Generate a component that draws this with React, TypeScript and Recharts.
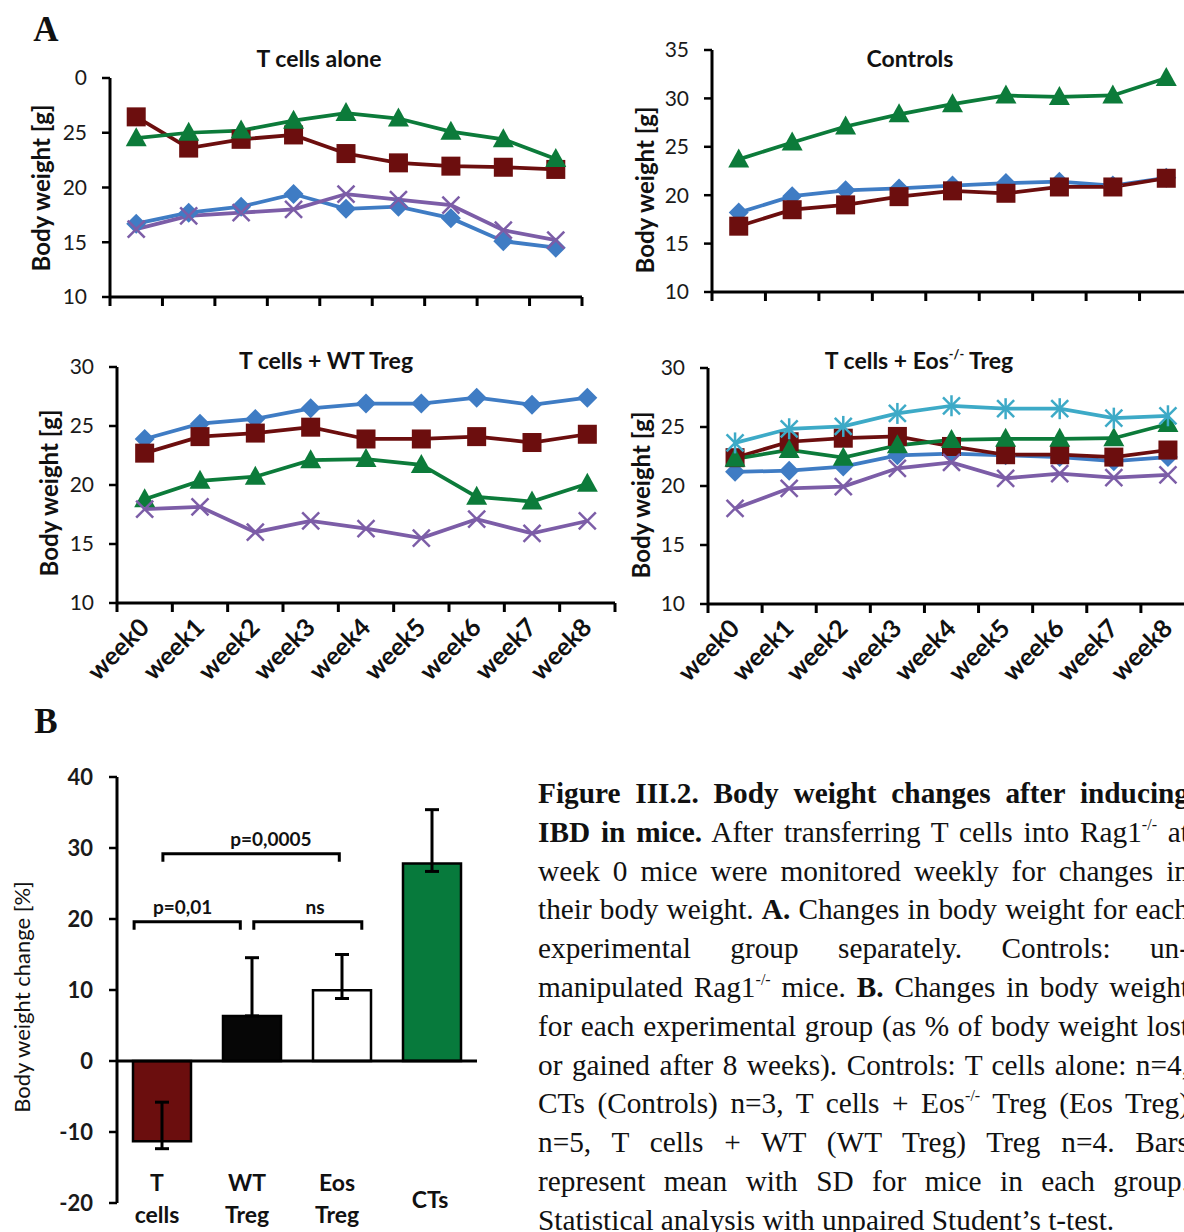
import React from "react";
import { LineChart, Line, XAxis, YAxis, BarChart, Bar, Cell, ErrorBar, ReferenceLine } from "recharts";

const FONT = "Lato, 'Open Sans', sans-serif";
const SERIF = "'Liberation Serif', 'Times New Roman', serif";

const weeks = ["week0", "week1", "week2", "week3", "week4", "week5", "week6", "week7", "week8"];

// T cells alone
const aloneBlue = [16.7, 17.7, 18.25, 19.4, 18.05, 18.25, 17.2, 15.1, 14.5];
const aloneRed = [26.45, 23.6, 24.4, 24.8, 23.1, 22.25, 21.95, 21.85, 21.65];
const aloneGreen = [24.5, 25.0, 25.2, 26.1, 26.8, 26.3, 25.1, 24.4, 22.6];
const alonePurple = [16.2, 17.4, 17.7, 18.0, 19.4, 18.9, 18.4, 16.1, 15.2];

// Controls
const ctrlBlue = [18.2, 19.9, 20.5, 20.7, 21.0, 21.25, 21.4, 21.0, 21.8];
const ctrlRed = [16.8, 18.5, 19.0, 19.85, 20.45, 20.2, 20.85, 20.85, 21.75];
const ctrlGreen = [23.7, 25.45, 27.1, 28.35, 29.4, 30.3, 30.15, 30.3, 32.1];

// T cells + WT Treg
const wtBlue = [23.9, 25.2, 25.6, 26.5, 26.9, 26.9, 27.4, 26.8, 27.4];
const wtRed = [22.7, 24.1, 24.4, 24.9, 23.9, 23.9, 24.1, 23.6, 24.3];
const wtGreen = [18.8, 20.35, 20.7, 22.1, 22.2, 21.7, 19.0, 18.6, 20.1];
const wtPurple = [17.95, 18.15, 16.0, 16.95, 16.3, 15.5, 17.1, 15.9, 16.95];

// T cells + Eos-/- Treg
const eosBlue = [21.2, 21.3, 21.65, 22.6, 22.75, 22.6, 22.45, 22.1, 22.45];
const eosRed = [22.4, 23.75, 24.05, 24.2, 23.35, 22.65, 22.65, 22.45, 23.05];
const eosGreen = [22.3, 23.05, 22.4, 23.45, 23.9, 24.0, 24.0, 24.05, 25.25];
const eosPurple = [18.1, 19.8, 19.95, 21.5, 22.0, 20.65, 21.05, 20.7, 20.95];
const eosCyan = [23.65, 24.85, 25.05, 26.15, 26.8, 26.55, 26.55, 25.75, 25.95];

// Panel B
const groups = ["T cells", "WT Treg", "Eos Treg", "CTs"];
const groupLabels = [["T", "cells"], ["WT", "Treg"], ["Eos", "Treg"], ["CTs"]];
const changeMean = [-11.3, 6.35, 9.95, 27.8];
const changeErrLow = [1.05, 0, 1.15, 1.1];
const changeErrHigh = [5.5, 8.2, 5.05, 7.6];
const barColors = ["#6B0E0E", "#060606", "#FFFFFF", "#077A3C"];

const BLUE = "#3F7CC4";
const RED = "#6C0E0E";
const GREEN = "#0C7B3A";
const PURPLE = "#7C5DA7";
const CYAN = "#3DAAC7";

type MarkerKind = "diamond" | "square" | "triangle" | "cross" | "star";
type Series = { key: string; values: number[]; color: string; marker: MarkerKind };

function marker(kind: MarkerKind, color: string) {
  return (p: any) => {
    const { cx, cy, index } = p;
    const k = `m-${index}`;
    if (cx == null || cy == null) return <g key={k} />;
    if (kind === "diamond")
      return <polygon key={k} points={`${cx},${cy - 10} ${cx + 10},${cy} ${cx},${cy + 10} ${cx - 10},${cy}`} fill={color} />;
    if (kind === "square") return <rect key={k} x={cx - 9.5} y={cy - 9.5} width={19} height={19} fill={color} />;
    if (kind === "triangle")
      return <polygon key={k} points={`${cx},${cy - 11} ${cx + 10.5},${cy + 8} ${cx - 10.5},${cy + 8}`} fill={color} />;
    const r = 8.5;
    return (
      <g key={k} stroke={color} strokeWidth={2.5}>
        <line x1={cx - r} y1={cy - r} x2={cx + r} y2={cy + r} />
        <line x1={cx - r} y1={cy + r} x2={cx + r} y2={cy - r} />
        {kind === "star" && <line x1={cx} y1={cy - r - 2} x2={cx} y2={cy + r + 2} />}
      </g>
    );
  };
}

const halfTicks = Array.from({ length: weeks.length * 2 + 1 }, (_, i) => i / 2);

const weekTick = (labels: boolean) => (p: any) => {
  const { x, y, payload, index } = p;
  const v = payload.value as number;
  if (Number.isInteger(v))
    return <line key={`t-${index}`} x1={x} y1={y} x2={x} y2={y + 9} stroke="#000" strokeWidth={3} />;
  if (!labels) return <g key={`t-${index}`} />;
  const ax = x + 6;
  const ay = y + 26;
  return (
    <text
      key={`t-${index}`}
      x={ax}
      y={ay}
      transform={`rotate(-45 ${ax} ${ay})`}
      textAnchor="end"
      fontFamily={FONT}
      fontWeight={700}
      fontSize={25}
      fill="#111"
    >
      {weeks[Math.floor(v)]}
    </text>
  );
};

function WeightChart(props: {
  left: number;
  top: number;
  width: number;
  height: number;
  margin: { top: number; right: number; bottom: number; left: number };
  yDomain: [number, number];
  yTicks: number[];
  series: Series[];
  showWeeks: boolean;
  xHeight: number;
  yFormat?: (v: number) => string;
}) {
  const data = weeks.map((w, i) => {
    const row: any = { x: i + 0.5, week: w };
    props.series.forEach((s) => (row[s.key] = s.values[i]));
    return row;
  });
  return (
    <div style={{ position: "absolute", left: props.left, top: props.top }}>
      <LineChart width={props.width} height={props.height} data={data} margin={props.margin}>
        <XAxis
          dataKey="x"
          type="number"
          domain={[0, weeks.length]}
          ticks={halfTicks}
          interval={0}
          height={props.xHeight}
          tickSize={0}
          tickMargin={0}
          tickLine={false}
          axisLine={{ stroke: "#000", strokeWidth: 3 }}
          tick={weekTick(props.showWeeks)}
        />
        <YAxis
          type="number"
          domain={props.yDomain}
          ticks={props.yTicks}
          interval={0}
          width={60}
          tickSize={8}
          tickMargin={15}
          tickFormatter={props.yFormat}
          tickLine={{ stroke: "#000", strokeWidth: 2.5 }}
          axisLine={{ stroke: "#000", strokeWidth: 3 }}
          tick={{ fill: "#1a1a1a", fontSize: 21, fontFamily: FONT }}
        />
        {props.series.map((s) => (
          <Line
            key={s.key}
            dataKey={s.key}
            stroke={s.color}
            strokeWidth={3.75}
            dot={marker(s.marker, s.color)}
            activeDot={false}
            isAnimationActive={false}
          />
        ))}
      </LineChart>
    </div>
  );
}

function Txt(props: {
  cx: number;
  cy: number;
  size: number;
  weight?: number;
  rotate?: boolean;
  family?: string;
  children: React.ReactNode;
}) {
  return (
    <div
      style={{
        position: "absolute",
        left: props.cx,
        top: props.cy,
        transform: `translate(-50%, -50%)${props.rotate ? " rotate(-90deg)" : ""}`,
        whiteSpace: "nowrap",
        fontFamily: props.family || FONT,
        fontSize: props.size,
        fontWeight: props.weight || 400,
        lineHeight: 1,
        color: "#111",
      }}
    >
      {props.children}
    </div>
  );
}

const groupTick = (p: any) => {
  const { x, y, payload, index } = p;
  const lines = groupLabels[groups.indexOf(payload.value)] || [String(payload.value)];
  const common = { fontFamily: FONT, fontWeight: 700, fontSize: 23, fill: "#111", textAnchor: "middle" as const };
  if (lines.length === 1)
    return (
      <text key={`g-${index}`} x={x - 2} y={y + 5} {...common}>
        {lines[0]}
      </text>
    );
  return (
    <g key={`g-${index}`}>
      <text x={x - 5} y={y - 12} {...common}>
        {lines[0]}
      </text>
      <text x={x - 5} y={y + 20} {...common}>
        {lines[1]}
      </text>
    </g>
  );
};

// bar chart geometry (chart coordinates)
const B_W = 500;
const B_H = 472;
const B_MARGIN = { top: 17, right: 23, bottom: 9, left: 57 };
const B_PLOT_LEFT = B_MARGIN.left + 60;
const B_PLOT_W = B_W - B_PLOT_LEFT - B_MARGIN.right;
const B_PLOT_H = B_H - B_MARGIN.top - B_MARGIN.bottom - 20;
const B_DOMAIN: [number, number] = [-20, 40];

const brackets = [
  { from: 0.19, to: 1.37, level: 19.6, textAt: 0.73, text: "p=0,01" },
  { from: 1.52, to: 2.72, level: 19.6, textAt: 2.2, text: "ns" },
  { from: 0.51, to: 2.47, level: 29.2, textAt: 1.71, text: "p=0,0005" },
];

function Brackets() {
  const band = B_PLOT_W / groups.length;
  const xAt = (u: number) => B_PLOT_LEFT + u * band;
  const yAt = (v: number) => B_MARGIN.top + ((B_DOMAIN[1] - v) / (B_DOMAIN[1] - B_DOMAIN[0])) * B_PLOT_H;
  return (
    <svg width={B_W} height={B_H} style={{ position: "absolute", left: 0, top: 0, pointerEvents: "none" }}>
      {brackets.map((b) => {
        const y = yAt(b.level);
        const x1 = xAt(b.from);
        const x2 = xAt(b.to);
        return (
          <g key={b.text}>
            <path d={`M${x1},${y + 8} V${y} H${x2} V${y + 8}`} fill="none" stroke="#000" strokeWidth={3} />
            <text x={xAt(b.textAt)} y={y - 8} textAnchor="middle" fontFamily={FONT} fontWeight={700} fontSize={19} fill="#111">
              {b.text}
            </text>
          </g>
        );
      })}
    </svg>
  );
}

function ChangeChart() {
  const data = groups.map((g, i) => ({ name: g, value: changeMean[i], err: [changeErrLow[i], changeErrHigh[i]] }));
  return (
    <div style={{ position: "absolute", left: 0, top: 760, width: B_W, height: B_H }}>
      <BarChart width={B_W} height={B_H} data={data} margin={B_MARGIN}>
        <XAxis
          dataKey="name"
          height={20}
          interval={0}
          tickSize={0}
          tickMargin={0}
          axisLine={false}
          tickLine={false}
          tick={groupTick}
        />
        <YAxis
          type="number"
          domain={B_DOMAIN}
          ticks={[-20, -10, 0, 10, 20, 30, 40]}
          interval={0}
          width={60}
          tickSize={8}
          tickMargin={16}
          tickLine={{ stroke: "#000", strokeWidth: 2.5 }}
          axisLine={{ stroke: "#000", strokeWidth: 3 }}
          tick={{ fill: "#1a1a1a", fontSize: 22, fontWeight: 700, fontFamily: FONT }}
        />
        <Bar dataKey="value" barSize={58} stroke="#000" strokeWidth={2.5} isAnimationActive={false}>
          {data.map((d, i) => (
            <Cell key={d.name} fill={barColors[i]} />
          ))}
          <ErrorBar dataKey="err" width={7} strokeWidth={3} stroke="#000" isAnimationActive={false} />
        </Bar>
        <ReferenceLine y={0} stroke="#000" strokeWidth={3} />
      </BarChart>
      <Brackets />
    </div>
  );
}

const sup = (s: string) => (
  <sup style={{ fontSize: "0.55em", verticalAlign: "0.75em", lineHeight: 0 }}>{s}</sup>
);

const captionLines: React.ReactNode[] = [
  <b>Figure III.2. Body weight changes after inducing</b>,
  <>
    <b>IBD in mice.</b> After transferring T cells into Rag1{sup("-/-")} at
  </>,
  <>week 0 mice were monitored weekly for changes in</>,
  <>
    their body weight. <b>A.</b> Changes in body weight for each
  </>,
  <>experimental group separately. Controls: un-</>,
  <>
    manipulated Rag1{sup("-/-")} mice. <b>B.</b> Changes in body weight
  </>,
  <>for each experimental group (as % of body weight lost</>,
  <>or gained after 8 weeks). Controls: T cells alone: n=4,</>,
  <>
    CTs (Controls) n=3, T cells + Eos{sup("-/-")} Treg (Eos Treg)
  </>,
  <>n=5, T cells + WT (WT Treg) Treg n=4. Bars</>,
  <>represent mean with SD for mice in each group.</>,
  <>Statistical analysis with unpaired Student’s t-test.</>,
];

function CaptionText() {
  const last = captionLines.length - 1;
  return (
    <div style={{ position: "absolute", left: 538, top: 774, width: 651, fontFamily: SERIF, fontSize: 29.3, color: "#111" }}>
      {captionLines.map((l, i) => (
        <div
          key={i}
          style={{
            height: 38.8,
            lineHeight: "38.8px",
            whiteSpace: "nowrap",
            textAlign: i < last ? "justify" : "left",
            textAlignLast: i < last ? "justify" : "auto",
          }}
        >
          {l}
        </div>
      ))}
    </div>
  );
}

export default function App() {
  const s = (key: string, values: number[], color: string, m: MarkerKind): Series => ({ key, values, color, marker: m });
  return (
    <div
      style={{
        position: "fixed",
        left: 0,
        top: 0,
        width: 1184,
        height: 1232,
        overflow: "hidden",
        background: "#fff",
      }}
    >
      <Txt cx={46} cy={29} size={35} weight={700} family={SERIF}>
        A
      </Txt>
      <Txt cx={46} cy={721} size={35} weight={700} family={SERIF}>
        B
      </Txt>

      <WeightChart
        left={0}
        top={0}
        width={600}
        height={330}
        margin={{ top: 78, right: 18, bottom: 13, left: 50 }}
        xHeight={20}
        yDomain={[10, 30]}
        yTicks={[10, 15, 20, 25, 30]}
        yFormat={(v) => (v === 30 ? "0" : String(v))}
        showWeeks={false}
        series={[
          s("blue", aloneBlue, BLUE, "diamond"),
          s("red", aloneRed, RED, "square"),
          s("green", aloneGreen, GREEN, "triangle"),
          s("purple", alonePurple, PURPLE, "cross"),
        ]}
      />
      <WeightChart
        left={600}
        top={0}
        width={600}
        height={320}
        margin={{ top: 50, right: 7, bottom: 8, left: 52 }}
        xHeight={20}
        yDomain={[10, 35]}
        yTicks={[10, 15, 20, 25, 30, 35]}
        showWeeks={false}
        series={[
          s("blue", ctrlBlue, BLUE, "diamond"),
          s("red", ctrlRed, RED, "square"),
          s("green", ctrlGreen, GREEN, "triangle"),
        ]}
      />
      <WeightChart
        left={0}
        top={330}
        width={640}
        height={380}
        margin={{ top: 37, right: 25, bottom: 7, left: 57 }}
        xHeight={100}
        yDomain={[10, 30]}
        yTicks={[10, 15, 20, 25, 30]}
        showWeeks={true}
        series={[
          s("blue", wtBlue, BLUE, "diamond"),
          s("red", wtRed, RED, "square"),
          s("green", wtGreen, GREEN, "triangle"),
          s("purple", wtPurple, PURPLE, "cross"),
        ]}
      />
      <WeightChart
        left={600}
        top={330}
        width={600}
        height={380}
        margin={{ top: 38, right: 5, bottom: 6, left: 48 }}
        xHeight={100}
        yDomain={[10, 30]}
        yTicks={[10, 15, 20, 25, 30]}
        showWeeks={true}
        series={[
          s("blue", eosBlue, BLUE, "diamond"),
          s("red", eosRed, RED, "square"),
          s("green", eosGreen, GREEN, "triangle"),
          s("purple", eosPurple, PURPLE, "cross"),
          s("cyan", eosCyan, CYAN, "star"),
        ]}
      />

      <Txt cx={319} cy={58} size={23} weight={700}>
        T cells alone
      </Txt>
      <Txt cx={910} cy={58} size={23} weight={700}>
        Controls
      </Txt>
      <Txt cx={326} cy={360} size={23} weight={700}>
        T cells + WT Treg
      </Txt>
      <Txt cx={919} cy={360} size={23} weight={700}>
        T cells + Eos{sup("-/-")} Treg
      </Txt>

      <Txt cx={41} cy={188} size={24} weight={700} rotate>
        Body weight [g]
      </Txt>
      <Txt cx={645} cy={190} size={24} weight={700} rotate>
        Body weight [g]
      </Txt>
      <Txt cx={49} cy={493} size={24} weight={700} rotate>
        Body weight [g]
      </Txt>
      <Txt cx={641} cy={495} size={24} weight={700} rotate>
        Body weight [g]
      </Txt>
      <Txt cx={22} cy={997} size={22} rotate>
        Body weight change [%]
      </Txt>

      <ChangeChart />
      <CaptionText />
    </div>
  );
}
